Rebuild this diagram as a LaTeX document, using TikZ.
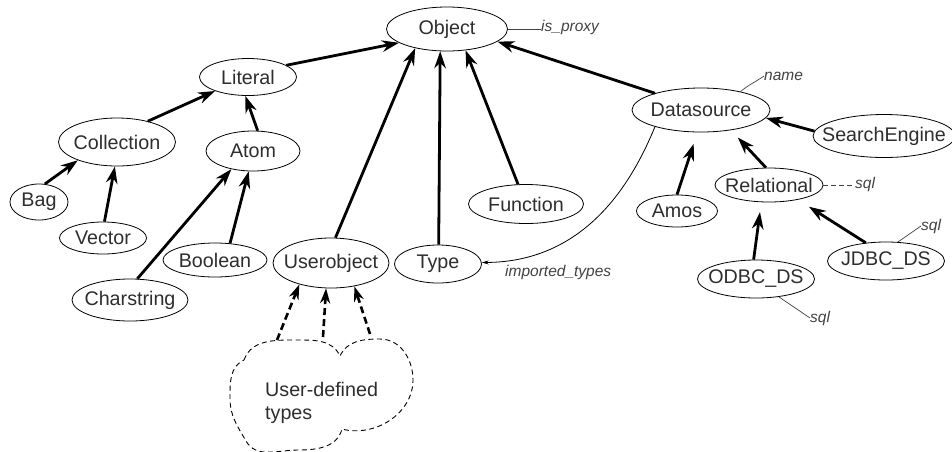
\documentclass[tikz,border=0pt]{standalone}
\usepackage{fontspec}
\setmainfont{Liberation Sans}
\usetikzlibrary{shapes.geometric,arrows.meta}

\definecolor{ink}{HTML}{2E2E2E}
\definecolor{note}{HTML}{424242}

% class label: zero-width box so the ellipse size is set by the style only
\newcommand\ovaltext[1]{\makebox[0pt]{#1}}
\newcommand\classfont{\fontsize{19.7}{23.5}\selectfont}
\newcommand\notefont{\fontsize{15.5}{18}\selectfont\itshape}

\begin{document}
\begin{tikzpicture}[x=1pt,y=1pt,
  cls/.style={ellipse,draw=black,line width=0.8pt,inner sep=0pt,
    text=ink,font=\classfont},
  isa/.style={line width=2.8pt,-{Stealth[length=17pt,width=11.5pt]}},
  userisa/.style={line width=2.6pt,dash pattern=on 7pt off 4pt,
    -{Stealth[length=15pt,width=10pt]}},
  noteline/.style={line width=0.7pt,draw=note},
  notetext/.style={inner sep=0pt,text=note,font=\notefont},
  cloudline/.style={line width=0.9pt,dash pattern=on 5pt off 3.5pt}
]
\useasboundingbox[fill=white] (0,0) rectangle (952,-451);

% ---- class nodes
\node[cls,minimum width=121,minimum height=44] (obj)  at (447,-29)  {\ovaltext{Object}};
\node[cls,minimum width=97, minimum height=37] (lit)  at (248,-77)  {\ovaltext{Literal}};
\node[cls,minimum width=117,minimum height=48] (col)  at (117,-142) {\ovaltext{Collection}};
\node[cls,minimum width=94, minimum height=40] (atom) at (253,-151) {\ovaltext{Atom}};
\node[cls,minimum width=58, minimum height=36] (bag)  at (39,-202)  {\ovaltext{Bag}};
\node[cls,minimum width=87, minimum height=32] (vec)  at (103,-238) {\ovaltext{Vector}};
\node[cls,minimum width=104,minimum height=34] (bool) at (215,-260) {\ovaltext{Boolean}};
\node[cls,minimum width=116,minimum height=42] (chr)  at (130,-300) {\ovaltext{Charstring}};
\node[cls,minimum width=116,minimum height=50] (uobj) at (331,-263) {\ovaltext{Userobject}};
\node[cls,minimum width=87, minimum height=38] (type) at (438,-264) {\ovaltext{Type}};
\node[cls,minimum width=115,minimum height=39] (fun)  at (526,-204) {\ovaltext{Function}};
\node[cls,minimum width=138,minimum height=44] (ds)   at (701,-110) {\ovaltext{Datasource}};
\node[cls,minimum width=142,minimum height=43] (se)   at (884,-136) {\ovaltext{SearchEngine}};
\node[cls,minimum width=81, minimum height=32] (amos) at (677,-211) {\ovaltext{Amos}};
\node[cls,minimum width=108,minimum height=34] (rel)  at (769,-185) {\ovaltext{Relational}};
\node[cls,minimum width=117,minimum height=38] (jdbc) at (886,-261) {\ovaltext{JDBC\_DS}};
\node[cls,minimum width=117,minimum height=38] (odbc) at (756,-279) {\ovaltext{ODBC\_DS}};

% ---- user-defined types cloud
\draw[cloudline] (244,-360) to[out=70,in=180] (296,-340) to[out=0,in=115] (340,-356)
  to[out=65,in=180] (380,-339) to[out=0,in=90] (413,-380) to[out=-90,in=-15] (342,-429)
  to[out=-105,in=0] (298,-450) to[out=180,in=-60] (246,-441) to[out=120,in=-90] (230,-398)
  to[out=90,in=205] (244,-360) -- cycle;
\node[inner sep=0pt,text=ink,font=\classfont,align=left,anchor=north west] (udt)
  at (265,-382) {User-defined\\types};
\coordinate (u1) at (277,-340);
\coordinate (u2) at (323,-337);
\coordinate (u3) at (370,-334);

% ---- generalisation arrows
\draw[isa] (lit.17)   -- (obj.196);
\draw[isa] (uobj.80)  -- (obj.211);
\draw[isa] (type.88)  -- (obj.253);
\draw[isa] (fun.112)  -- (obj.311);
\draw[isa] (ds.160)   -- (obj.346);
\draw[isa] (col.34)   -- (lit.203);
\draw[isa] (atom.77)  -- (lit.262);
\draw[isa] (bag.72)   -- (col.205);
\draw[isa] (vec.85)   -- (col.265);
\draw[isa] (chr.71)   -- (atom.220);
\draw[isa] (bool.48)  -- (atom.258);
\draw[isa,shorten >=12pt] (amos.90) -- (ds.261);
\draw[isa,shorten >=10pt] (rel.100) -- (ds.326);
\draw[isa] (se.176)   -- (ds.-7);
\draw[isa,shorten >=10pt] (odbc.97) -- (rel.246);
\draw[isa,shorten >=13pt] (jdbc.138) -- (rel.333);

\draw[userisa] (u1) -- (uobj.214);
\draw[userisa] (u2) -- (uobj.259);
\draw[userisa] (u3) -- (uobj.315);

% ---- property annotations
\node[notetext,anchor=west] (isp) at (541,-27) {is\_proxy};
\draw[noteline] (obj.east) -- (obj.east -| isp.west);

\node[notetext,anchor=west] (nm) at (764,-76) {name};
\draw[noteline] (ds.25) to[out=40,in=215] (nm.west);

\node[notetext,anchor=west] (sq1) at (855,-184) {sql};
\draw[noteline,dash pattern=on 5pt off 3pt] (rel.east) -- (rel.east -| sq1.west);

\node[notetext,anchor=west] (sq2) at (921,-226) {sql};
\draw[noteline] (jdbc.58) -- (sq2.west);

\node[notetext,anchor=west] (sq3) at (810,-318) {sql};
\draw[noteline] (odbc.-38) -- (sq3.west);

\node[notetext,anchor=west] (imp) at (505,-272) {imported\_types};
\draw[line width=0.8pt,-{Stealth[length=7pt,width=4pt]}]
  (ds.200) .. controls (635,-175) and (590,-262) .. (type.2);
\end{tikzpicture}
\end{document}
